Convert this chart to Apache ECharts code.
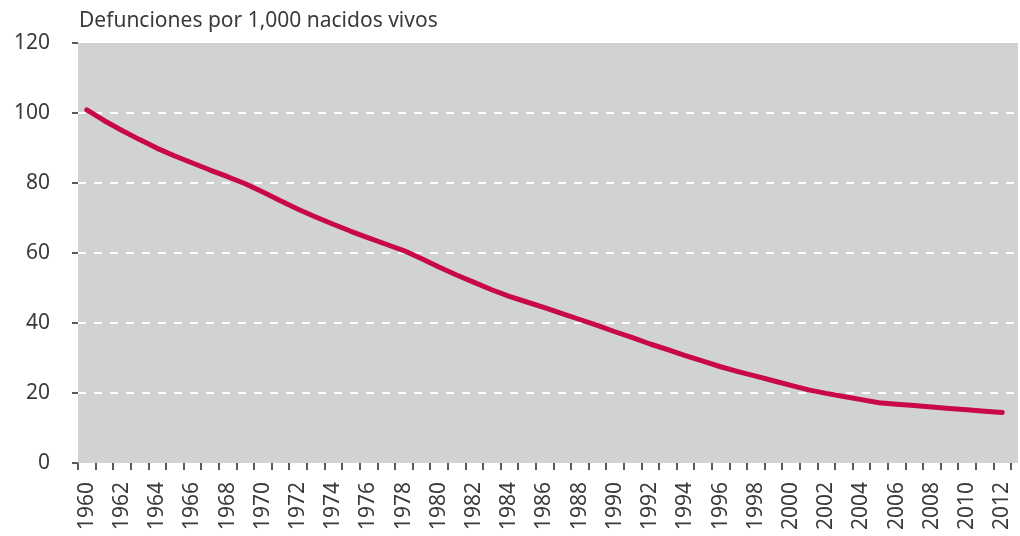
<!DOCTYPE html>
<html>
<head>
<meta charset="utf-8">
<script src="https://cdn.jsdelivr.net/npm/echarts@6/dist/echarts.min.js"></script>
<style>
  html, body { margin: 0; padding: 0; background: #fff; }
  #chart { width: 1020px; height: 536px; }
</style>
</head>
<body>
<div id="chart"></div>
<script>
// años 1960-2012
const years = [];
for (let y = 1960; y <= 2012; y++) years.push(String(y));

// tasa de mortalidad infantil (defunciones por 1,000 nacidos vivos)
const mortalidad = [
  100.9, 97.8, 95.0, 92.4, 89.9, 87.7, 85.7, 83.7, 81.8, 79.8,
  77.4, 74.9, 72.5, 70.3, 68.2, 66.2, 64.3, 62.5, 60.7, 58.4,
  56.0, 53.7, 51.6, 49.5, 47.6, 46.0, 44.4, 42.7, 41.0, 39.3,
  37.5, 35.8, 34.0, 32.4, 30.7, 29.1, 27.5, 26.1, 24.8, 23.5,
  22.2, 20.9, 19.9, 19.0, 18.1, 17.2, 16.8, 16.4, 16.0, 15.6,
  15.2, 14.8, 14.4
];

const yTicks = [0, 20, 40, 60, 80, 100, 120];
const titulo = 'Defunciones por 1,000 nacidos vivos';

const font = '"Noto Sans", "Open Sans", sans-serif';
const textColor = '#3a3a3a';
const tickColor = '#5a5a5a';

const chart = echarts.init(document.getElementById('chart'));
chart.setOption({
  animation: false,
  textStyle: { fontFamily: font },
  title: {
    text: titulo,
    left: 74,
    top: 6,
    textStyle: { fontSize: 21, fontWeight: 'normal', color: textColor, fontFamily: font }
  },
  grid: [
    // ejes y serie
    { left: 78, right: 9, top: 43, bottom: 73, show: false },
    // fondo gris y líneas guía
    { left: 78, right: 2, top: 43, bottom: 73, show: true, backgroundColor: '#d1d2d4', borderWidth: 0 }
  ],
  xAxis: [
    {
      gridIndex: 0,
      type: 'category',
      data: years,
      boundaryGap: true,
      axisLine: { show: false },
      axisTick: { show: true, interval: 0, length: 7, lineStyle: { color: tickColor, width: 2 } },
      axisLabel: {
        interval: 1,
        rotate: 90,
        margin: 19,
        fontSize: 21,
        color: textColor,
        fontFamily: font
      },
      splitLine: { show: false }
    },
    { gridIndex: 1, type: 'value', show: false, min: 0, max: 1 }
  ],
  yAxis: [
    {
      gridIndex: 0,
      type: 'value',
      min: yTicks[0],
      max: yTicks[yTicks.length - 1],
      interval: 20,
      axisLine: { show: false },
      axisTick: { show: true, length: 6, lineStyle: { color: tickColor, width: 2 } },
      axisLabel: { margin: 28, fontSize: 21, color: textColor, fontFamily: font },
      splitLine: { show: false }
    },
    {
      gridIndex: 1,
      type: 'value',
      min: yTicks[0],
      max: yTicks[yTicks.length - 1],
      interval: 20,
      axisLine: { show: false },
      axisTick: { show: false },
      axisLabel: { show: false },
      splitLine: {
        show: true,
        showMinLine: false,
        showMaxLine: false,
        lineStyle: { color: '#ffffff', width: 2, type: [8, 8] }
      }
    }
  ],
  series: [
    {
      name: 'Mortalidad infantil',
      type: 'line',
      xAxisIndex: 0,
      yAxisIndex: 0,
      data: mortalidad,
      symbol: 'none',
      lineStyle: { color: '#c8084a', width: 5, cap: 'round' },
      z: 5
    }
  ]
});
</script>
</body>
</html>
